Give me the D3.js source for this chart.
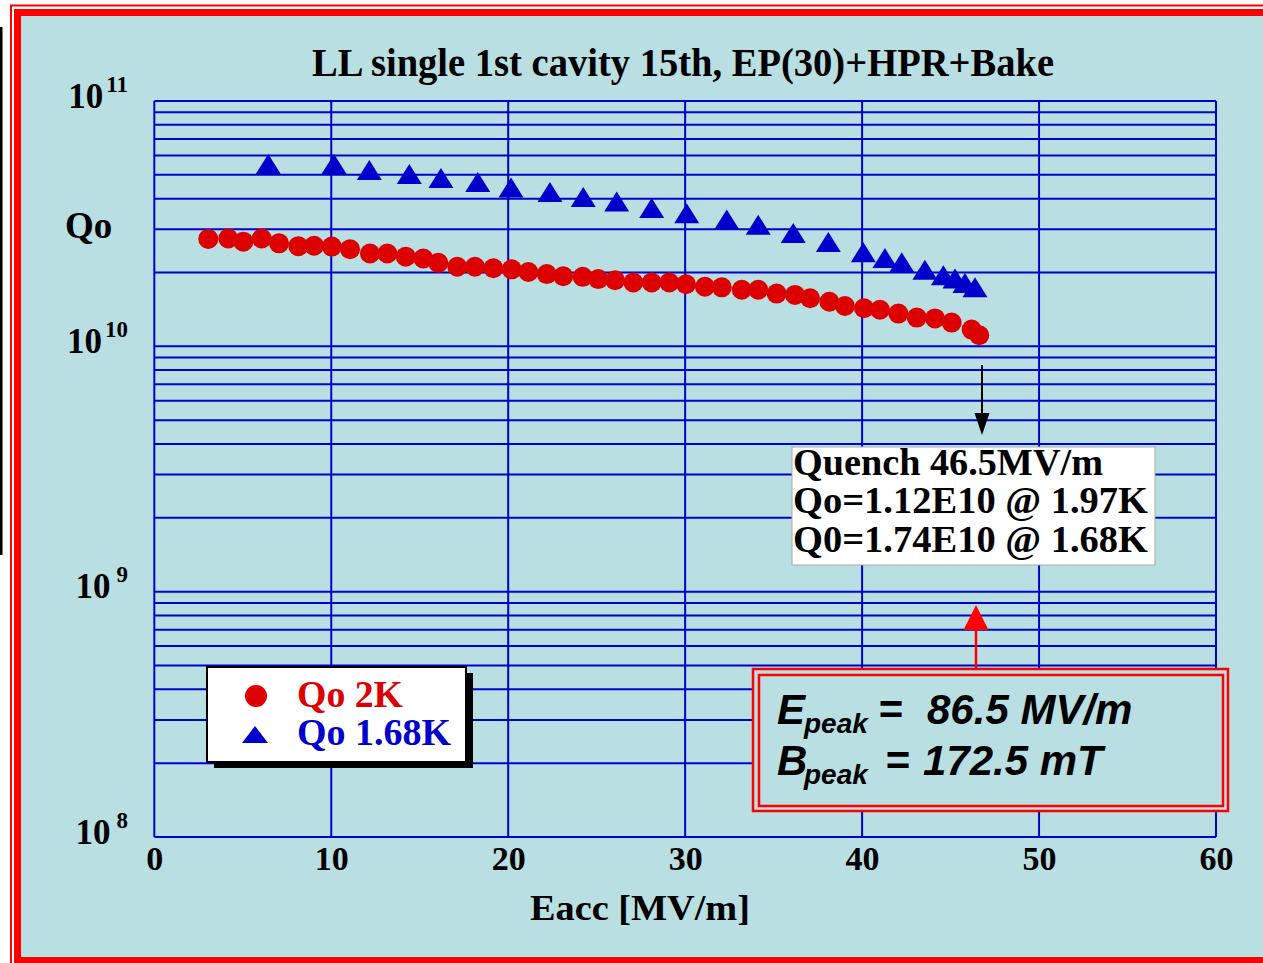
<!DOCTYPE html>
<html>
<head>
<meta charset="utf-8">
<script src="https://cdn.jsdelivr.net/npm/d3@7"></script>
<style>
  html, body { margin: 0; padding: 0; background: #ffffff; }
  svg { display: block; }
</style>
</head>
<body>
<script>
// ---- Data ----
const titleText = "LL single 1st cavity 15th, EP(30)+HPR+Bake";
const xLabel = "Eacc [MV/m]";
const yLabel = "Qo";
const xTicks = [0, 10, 20, 30, 40, 50, 60];
const yDecades = [8, 9, 10, 11];

// Qo at 2K (red circles): Eacc [MV/m], Qo
const eacc2K = [3.05, 4.18, 5.03, 6.07, 7.05, 8.14, 9.03, 10.03, 11.06, 12.19, 13.17, 14.21, 15.20,
  16.05, 17.12, 18.12, 19.16, 20.20, 21.14, 22.18, 23.11, 24.21, 25.09, 26.04, 27.07, 28.11,
  29.10, 30.05, 31.12, 32.07, 33.20, 34.13, 35.17, 36.21, 37.06, 38.15, 39.03, 40.11, 41.01,
  42.05, 43.09, 44.12, 45.06, 46.19, 46.62];
const q2K = [2.74e10, 2.75e10, 2.67e10, 2.75e10, 2.63e10, 2.56e10, 2.57e10, 2.55e10, 2.49e10, 2.39e10,
  2.39e10, 2.32e10, 2.28e10, 2.19e10, 2.11e10, 2.11e10, 2.08e10, 2.06e10, 2.01e10, 1.97e10,
  1.93e10, 1.92e10, 1.88e10, 1.86e10, 1.82e10, 1.82e10, 1.82e10, 1.79e10, 1.75e10, 1.74e10,
  1.70e10, 1.70e10, 1.64e10, 1.62e10, 1.57e10, 1.52e10, 1.46e10, 1.43e10, 1.41e10, 1.36e10,
  1.31e10, 1.30e10, 1.25e10, 1.17e10, 1.11e10];

// Qo at 1.68K (blue triangles)
const eacc168K = [6.44, 10.16, 12.15, 14.41, 16.20, 18.28, 20.16, 22.36, 24.24, 26.13, 28.11, 30.09,
  32.35, 34.13, 36.11, 38.09, 40.07, 41.29, 42.24, 43.55, 44.59, 45.25, 45.81, 46.38];
const q168K = [5.54e10, 5.54e10, 5.23e10, 5.04e10, 4.86e10, 4.68e10, 4.44e10, 4.26e10, 4.06e10, 3.89e10,
  3.66e10, 3.49e10, 3.29e10, 3.13e10, 2.90e10, 2.66e10, 2.42e10, 2.29e10, 2.20e10, 2.05e10,
  1.95e10, 1.89e10, 1.81e10, 1.74e10];

const legendLabels = ["Qo 2K", "Qo 1.68K"];
const noteLines = ["Quench 46.5MV/m", "Qo=1.12E10 @ 1.97K", "Q0=1.74E10 @ 1.68K"];

// ---- Styles ----
const W = 1263, H = 963;
const bg = "#B9DFE3";
const gridBlue = "#0000CC";
const red = "#DD0000";
const serif = "'Liberation Serif', 'Times New Roman', Times, serif";
const sans = "'Liberation Sans', Arial, Helvetica, sans-serif";

const svg = d3.select("body").append("svg").attr("width", W).attr("height", H);

// page + frame
svg.append("rect").attr("x", 0).attr("y", 0).attr("width", W).attr("height", H).attr("fill", "#ffffff");
svg.append("rect").attr("x", 0).attr("y", 27).attr("width", 2.5).attr("height", 528).attr("fill", "#000");
svg.append("path").attr("d", `M11,${H} V5.5 H${W + 5}`).attr("fill", "none")
  .attr("stroke", "#FF0000").attr("stroke-width", 2);
svg.append("rect").attr("x", 14).attr("y", 9).attr("width", W).attr("height", H).attr("fill", "#FF0000");
svg.append("rect").attr("x", 21).attr("y", 16).attr("width", W).attr("height", 941).attr("fill", bg);

// ---- Scales ----
const x = d3.scaleLinear().domain([0, 60]).range([154.3, 1216]);
const y = d3.scaleLog().domain([1e8, 1e11]).range([837, 101]);

// ---- Grid ----
const grid = svg.append("g");
const hVals = [];
for (let d = 8; d <= 10; d++) for (let k = 1; k <= 9; k++) hVals.push(k * Math.pow(10, d));
hVals.push(1e11);
grid.selectAll("line.h").data(hVals).enter().append("line")
  .attr("x1", x(0)).attr("x2", x(60))
  .attr("y1", d => y(d)).attr("y2", d => y(d))
  .attr("stroke", gridBlue).attr("stroke-width", 2);
grid.selectAll("line.v").data(xTicks).enter().append("line")
  .attr("x1", d => x(d)).attr("x2", d => x(d))
  .attr("y1", y(1e11)).attr("y2", y(1e8))
  .attr("stroke", gridBlue).attr("stroke-width", 2);

// ---- Axis tick labels ----
const xAxis = d3.axisBottom(x).tickValues(xTicks).tickSize(0).tickFormat(d3.format("d"));
const xg = svg.append("g").attr("transform", `translate(0,${y(1e8)})`).call(xAxis);
xg.select(".domain").remove();
xg.selectAll("text").attr("dy", null).attr("y", 33)
  .attr("font-family", serif).attr("font-weight", "bold").attr("font-size", 34).attr("fill", "#000");

const yl = svg.append("g");
yDecades.forEach(d => {
  const t = yl.append("text").attr("x", 128).attr("y", y(Math.pow(10, d)) + 6.5)
    .attr("text-anchor", "end").attr("font-family", serif).attr("font-weight", "bold").attr("fill", "#000");
  t.append("tspan").attr("font-size", 35).text("10");
  t.append("tspan").attr("font-size", 23).attr("dy", -16).attr("dx", d < 10 ? 6 : 3).text(String(d));
});

// axis titles
svg.append("text").attr("x", 65).attr("y", 238).attr("font-family", serif).attr("font-weight", "bold")
  .attr("font-size", 37).attr("fill", "#000").text(yLabel);
svg.append("text").attr("x", 530).attr("y", 920).attr("font-family", serif).attr("font-weight", "bold")
  .attr("font-size", 36).attr("fill", "#000").attr("textLength", 220).attr("lengthAdjust", "spacingAndGlyphs")
  .text(xLabel);
svg.append("text").attr("x", 312).attr("y", 76).attr("font-family", serif).attr("font-weight", "bold")
  .attr("font-size", 40).attr("fill", "#000").attr("textLength", 742).attr("lengthAdjust", "spacingAndGlyphs")
  .text(titleText);

// ---- Data marks ----
const tri = (w, h) => `M0,${-h / 2} L${w / 2},${h / 2} L${-w / 2},${h / 2} Z`;
const d2 = eacc2K.map((e, i) => ({ e, q: q2K[i] }));
const d168 = eacc168K.map((e, i) => ({ e, q: q168K[i] }));

svg.append("g").selectAll("path").data(d168).enter().append("path")
  .attr("d", tri(25, 20))
  .attr("transform", d => `translate(${x(d.e)},${y(d.q)})`)
  .attr("fill", gridBlue);

svg.append("g").selectAll("circle").data(d2).enter().append("circle")
  .attr("cx", d => x(d.e)).attr("cy", d => y(d.q)).attr("r", 10)
  .attr("fill", red);

// ---- Legend ----
const lg = svg.append("g");
lg.append("rect").attr("x", 214).attr("y", 673).attr("width", 259).attr("height", 95).attr("fill", "#000");
lg.append("rect").attr("x", 207).attr("y", 667).attr("width", 259).attr("height", 95)
  .attr("fill", "#fff").attr("stroke", "#000").attr("stroke-width", 2);
lg.append("circle").attr("cx", 256).attr("cy", 696).attr("r", 11).attr("fill", red);
lg.append("path").attr("d", tri(26, 17)).attr("transform", "translate(255,734.5)").attr("fill", gridBlue);
lg.append("text").attr("x", 297).attr("y", 707).attr("font-family", serif).attr("font-weight", "bold")
  .attr("font-size", 37).attr("fill", red).attr("textLength", 106).attr("lengthAdjust", "spacingAndGlyphs")
  .text(legendLabels[0]);
lg.append("text").attr("x", 297).attr("y", 745).attr("font-family", serif).attr("font-weight", "bold")
  .attr("font-size", 37).attr("fill", gridBlue).attr("textLength", 154).attr("lengthAdjust", "spacingAndGlyphs")
  .text(legendLabels[1]);

// ---- Quench note ----
const ng = svg.append("g");
ng.append("rect").attr("x", 792).attr("y", 447).attr("width", 363).attr("height", 118)
  .attr("fill", "#fff").attr("stroke", "#aaaaaa").attr("stroke-width", 1);
const noteY = [475, 513, 552];
const noteW = [310, 355, 355];
noteLines.forEach((s, i) => {
  ng.append("text").attr("x", 793).attr("y", noteY[i]).attr("font-family", serif).attr("font-weight", "bold")
    .attr("font-size", 37).attr("fill", "#000").attr("textLength", noteW[i]).attr("lengthAdjust", "spacingAndGlyphs")
    .text(s);
});

// black arrow
svg.append("line").attr("x1", 982).attr("x2", 982).attr("y1", 365).attr("y2", 416)
  .attr("stroke", "#000").attr("stroke-width", 2);
svg.append("path").attr("d", "M982,435 L974.5,413 L989.5,413 Z").attr("fill", "#000");

// red arrow
svg.append("line").attr("x1", 976).attr("x2", 976).attr("y1", 628).attr("y2", 670)
  .attr("stroke", "#FF0000").attr("stroke-width", 2.5);
svg.append("path").attr("d", "M976,605 L963.5,630 L988.5,630 Z").attr("fill", "#FF0000");

// ---- Epeak / Bpeak box ----
const eg = svg.append("g");
eg.append("rect").attr("x", 753).attr("y", 669).attr("width", 475).attr("height", 142)
  .attr("fill", bg).attr("stroke", "#FF0000").attr("stroke-width", 2.5);
eg.append("rect").attr("x", 759).attr("y", 675).attr("width", 464).attr("height", 131)
  .attr("fill", "none").attr("stroke", "#FF0000").attr("stroke-width", 2.5);
function peakLine(letter, eqX, rest, restX, base) {
  const t = eg.append("text").attr("font-family", sans).attr("font-weight", "bold").attr("font-style", "italic")
    .attr("fill", "#000");
  t.append("tspan").attr("x", 777).attr("y", base).attr("font-size", 42).text(letter);
  t.append("tspan").attr("x", 804).attr("y", base + 9).attr("font-size", 28).text("peak");
  t.append("tspan").attr("x", eqX).attr("y", base).attr("font-size", 42).text("=");
  t.append("tspan").attr("x", restX).attr("y", base).attr("font-size", 42).text(rest);
}
peakLine("E", 878, "86.5 MV/m", 927, 724);
peakLine("B", 885, "172.5 mT", 923, 775);
</script>
</body>
</html>
